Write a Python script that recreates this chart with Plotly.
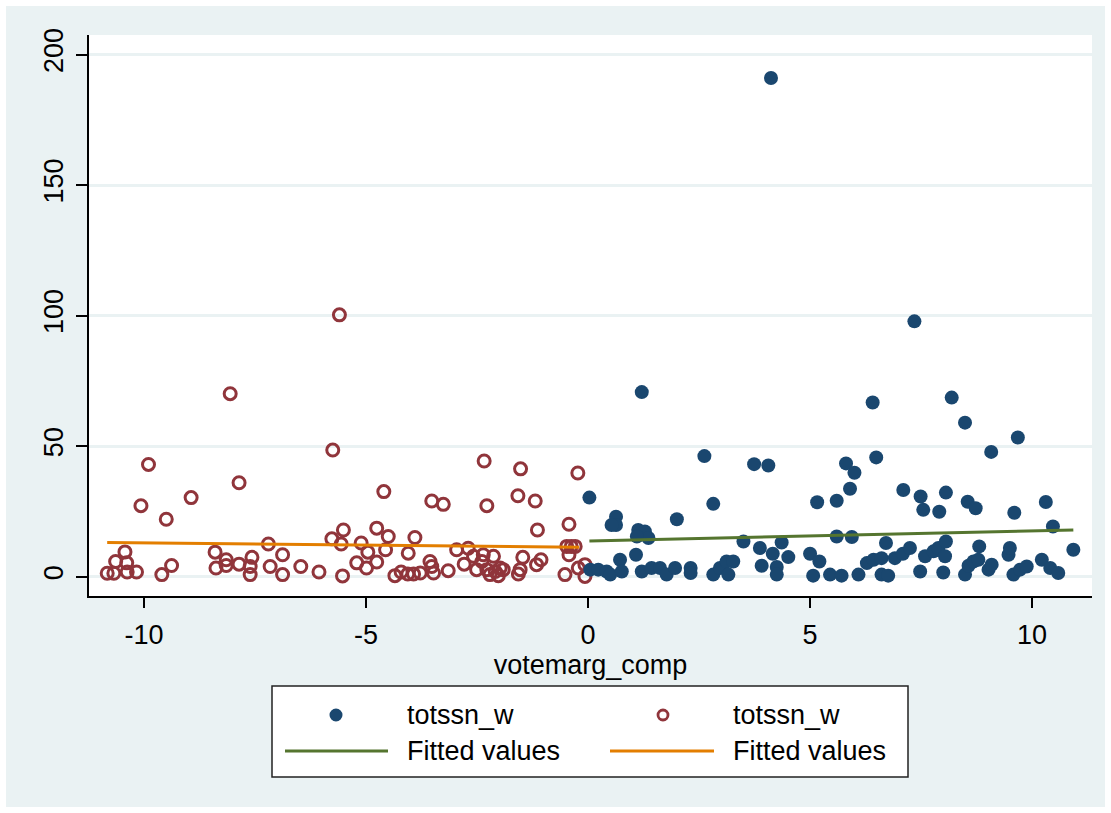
import plotly.graph_objects as go

# Vote margin (x) and totssn_w (y) on each side of the cutoff
left_x = [-10.07, -8.94, -9.50, -10.83, -10.68, -10.64, -10.43, -10.39, -10.38, -10.17,
          -9.60, -9.38, -8.40, -8.38, -8.15, -8.15, -7.86, -7.57, -7.61, -7.61,
          -7.20, -7.16, -6.88, -6.88, -6.47, -6.06, -5.77, -5.51, -5.56, -5.53,
          -5.21, -5.11, -4.96, -4.99, -4.76, -4.76, -4.50, -4.56, -4.35, -4.21,
          -4.05, -4.06, -3.93, -3.90, -3.78, -3.56, -3.52, -3.48, -3.15, -2.96,
          -2.79, -2.70, -2.58, -2.51, -2.39, -2.36, -2.28, -2.21, -2.13, -2.09,
          -2.02, -1.98, -1.91, -1.57, -1.53, -1.47, -1.16, -1.06, -1.14, -0.52,
          -0.43, -0.43, -0.48, -0.38, -0.29, -0.22, -0.07, -0.07, -3.52, -3.26,
          -2.28, -1.58, -1.19, -4.60, -5.60, -5.75, -2.34, -1.52, -0.23, -8.06,
          -9.90, -7.86]
left_y = [27.2, 30.3, 22.0, 1.3, 1.3, 5.8, 9.5, 5.3, 1.8, 1.8,
          0.8, 4.3, 9.4, 3.3, 6.5, 4.3, 4.8, 7.4, 3.9, 0.8,
          12.5, 3.9, 8.4, 0.8, 3.9, 1.8, 14.5, 17.9, 12.5, 0.3,
          5.3, 12.9, 9.4, 3.3, 18.6, 5.6, 15.4, 10.3, 0.4, 1.8,
          9.0, 1.0, 1.0, 15.0, 1.4, 5.8, 3.9, 1.4, 2.3, 10.3,
          4.8, 10.9, 7.8, 2.7, 5.8, 8.4, 2.7, 0.8, 7.8, 2.0,
          0.4, 3.3, 2.7, 1.0, 2.7, 7.4, 4.6, 6.5, 17.9, 0.8,
          20.1, 8.4, 11.6, 11.6, 11.6, 3.3, 0.1, 4.6, 29.0, 27.7,
          27.2, 31.0, 29.0, 32.6, 100.3, 48.5, 44.3, 41.3, 39.7, 70.1,
          43.0, 36.0]

right_x = [1.21, 2.62, 3.74, 4.06, 0.03, 2.82, 2.00, 0.63, 0.63, 0.53,
           5.16, 5.60, 7.35, 6.41, 8.19, 8.49, 9.68, 9.08, 6.49, 5.81,
           6.00, 5.90, 7.10, 7.49, 7.55, 7.91, 8.06, 8.55, 8.73, 9.60,
           10.31, 10.47, 10.93, 1.13, 1.28, 1.36, 1.10, 3.50, 3.87, 4.36,
           4.16, 4.51, 3.91, 4.25, 4.25, 5.60, 5.94, 5.00, 5.21, 5.07,
           5.45, 5.71, 6.09, 6.28, 6.43, 6.61, 6.71, 6.61, 6.76, 6.91,
           7.09, 7.25, 7.48, 7.59, 7.78, 7.89, 8.04, 8.06, 8.00, 8.49,
           8.57, 8.68, 8.79, 8.81, 9.02, 9.09, 9.47, 9.50, 9.58, 9.73,
           9.88, 10.22, 10.41, 10.59, 0.05, 0.23, 0.42, 0.50, 0.72, 0.76,
           1.08, 1.21, 1.43, 1.62, 1.77, 1.96, 2.31, 2.31, 2.82, 2.97,
           3.12, 3.27, 3.16, 4.12]
right_y = [70.7, 46.2, 43.1, 42.6, 30.3, 27.9, 22.0, 23.0, 19.8, 19.8,
           28.5, 29.1, 97.8, 66.7, 68.6, 59.0, 53.3, 47.8, 45.7, 43.4,
           39.8, 33.7, 33.2, 30.7, 25.6, 24.9, 32.2, 28.7, 26.2, 24.5,
           28.6, 19.2, 10.3, 17.9, 17.3, 14.8, 15.4, 13.5, 11.0, 13.1,
           8.8, 7.5, 4.2, 3.7, 0.8, 15.4, 15.2, 8.8, 5.8, 0.4,
           0.8, 0.4, 0.8, 5.2, 6.5, 7.1, 12.9, 0.8, 0.4, 7.1,
           8.8, 11.0, 2.0, 7.8, 9.7, 11.0, 7.8, 13.5, 1.6, 0.8,
           4.2, 5.8, 6.5, 11.6, 2.7, 4.6, 8.4, 11.0, 0.8, 2.7,
           3.9, 6.5, 3.3, 1.4, 2.7, 2.7, 2.0, 0.8, 6.5, 2.0,
           8.4, 2.0, 3.3, 3.3, 0.8, 3.3, 3.3, 1.4, 0.8, 3.3,
           5.8, 5.8, 0.8, 191.0]

# Linear fits on each side
fit_left_x = [-10.83, -0.20]
fit_left_y = [13.1, 11.3]
fit_right_x = [0.03, 10.93]
fit_right_y = [13.7, 17.9]

x_ticks = [-10, -5, 0, 5, 10]
y_ticks = [0, 50, 100, 150, 200]

NAVY = "#1a476f"
MAROON = "#90353b"
GREEN = "#55752f"
ORANGE = "#e37e00"
BG = "#eaf2f3"
FONT = "Liberation Sans, Arial, sans-serif"
FS = 27

W, H = 1111, 813
ML, MR, MT, MB = 89, 19, 35, 217
PW, PH = W - ML - MR, H - MT - MB


def px(xpix):
    return (xpix - ML) / PW


def py(ypix):
    return (H - MB - ypix) / PH


fig = go.Figure()
fig.add_trace(go.Scatter(x=left_x, y=left_y, mode="markers", name="totssn_w",
                         marker=dict(symbol="circle-open", size=12, color=MAROON,
                                     line=dict(width=3, color=MAROON)),
                         showlegend=False))
fig.add_trace(go.Scatter(x=right_x, y=right_y, mode="markers", name="totssn_w",
                         marker=dict(symbol="circle", size=14, color=NAVY,
                                     line=dict(width=0)),
                         showlegend=False))
fig.add_trace(go.Scatter(x=fit_left_x, y=fit_left_y, mode="lines", name="Fitted values",
                         line=dict(color=ORANGE, width=3), showlegend=False))
fig.add_trace(go.Scatter(x=fit_right_x, y=fit_right_y, mode="lines", name="Fitted values",
                         line=dict(color=GREEN, width=3), showlegend=False))

shapes = []
annotations = []

# Legend box
shapes.append(dict(type="rect", xref="paper", yref="paper",
                   x0=px(272), x1=px(908), y0=py(777), y1=py(686),
                   fillcolor="white", line=dict(color="#222222", width=1.5)))
row1, row2 = py(715), py(751)
# Marker keys
shapes.append(dict(type="circle", xref="paper", yref="paper",
                   xsizemode="pixel", ysizemode="pixel",
                   xanchor=px(336), yanchor=row1, x0=-6.5, x1=6.5, y0=-6.5, y1=6.5,
                   fillcolor=NAVY, line=dict(width=0)))
shapes.append(dict(type="circle", xref="paper", yref="paper",
                   xsizemode="pixel", ysizemode="pixel",
                   xanchor=px(663), yanchor=row1, x0=-5, x1=5, y0=-5, y1=5,
                   fillcolor="white", line=dict(color=MAROON, width=2.8)))
# Line keys
shapes.append(dict(type="line", xref="paper", yref="paper",
                   x0=px(285), x1=px(388), y0=row2, y1=row2,
                   line=dict(color=GREEN, width=3)))
shapes.append(dict(type="line", xref="paper", yref="paper",
                   x0=px(610), x1=px(714), y0=row2, y1=row2,
                   line=dict(color=ORANGE, width=3)))
for xt, yt, txt in [(405, row1, "totssn_w"), (405, row2, "Fitted values"),
                    (731, row1, "totssn_w"), (731, row2, "Fitted values")]:
    annotations.append(dict(x=px(xt), y=yt, xref="paper", yref="paper", text=txt,
                            showarrow=False, xanchor="left", yanchor="middle",
                            font=dict(family=FONT, size=FS, color="black")))

# Thin white frame round the graph region
shapes.append(dict(type="rect", xref="paper", yref="paper",
                   x0=px(0), x1=px(W), y0=py(H), y1=py(0),
                   fillcolor="rgba(0,0,0,0)", line=dict(color="white", width=12)))

fig.update_layout(
    width=W, height=H,
    margin=dict(l=ML, r=MR, t=MT, b=MB, pad=0),
    paper_bgcolor=BG, plot_bgcolor="white",
    font=dict(family=FONT, size=FS, color="black"),
    shapes=shapes, annotations=annotations,
    showlegend=False,
)
fig.update_xaxes(
    range=[-11.24, 11.35], tickvals=x_ticks, ticktext=[str(v) for v in x_ticks],
    showgrid=False, zeroline=False, showline=True, linecolor="black", linewidth=1.5,
    ticks="outside", ticklen=10, tickwidth=1.5, tickcolor="black",
    tickfont=dict(family=FONT, size=FS, color="black"), ticklabelstandoff=4,
    title=dict(text="votemarg_comp", font=dict(family=FONT, size=FS, color="black"), standoff=0),
)
fig.update_yaxes(
    range=[-7.4, 207.5], tickvals=y_ticks, ticktext=[str(v) for v in y_ticks],
    showgrid=True, gridcolor=BG, gridwidth=2.5, zeroline=False,
    showline=True, linecolor="black", linewidth=1.5,
    ticks="outside", ticklen=11, tickwidth=1.5, tickcolor="black",
    tickangle=-90, tickfont=dict(family=FONT, size=FS, color="black"), ticklabelstandoff=2,
)

fig.write_html("out.html")
